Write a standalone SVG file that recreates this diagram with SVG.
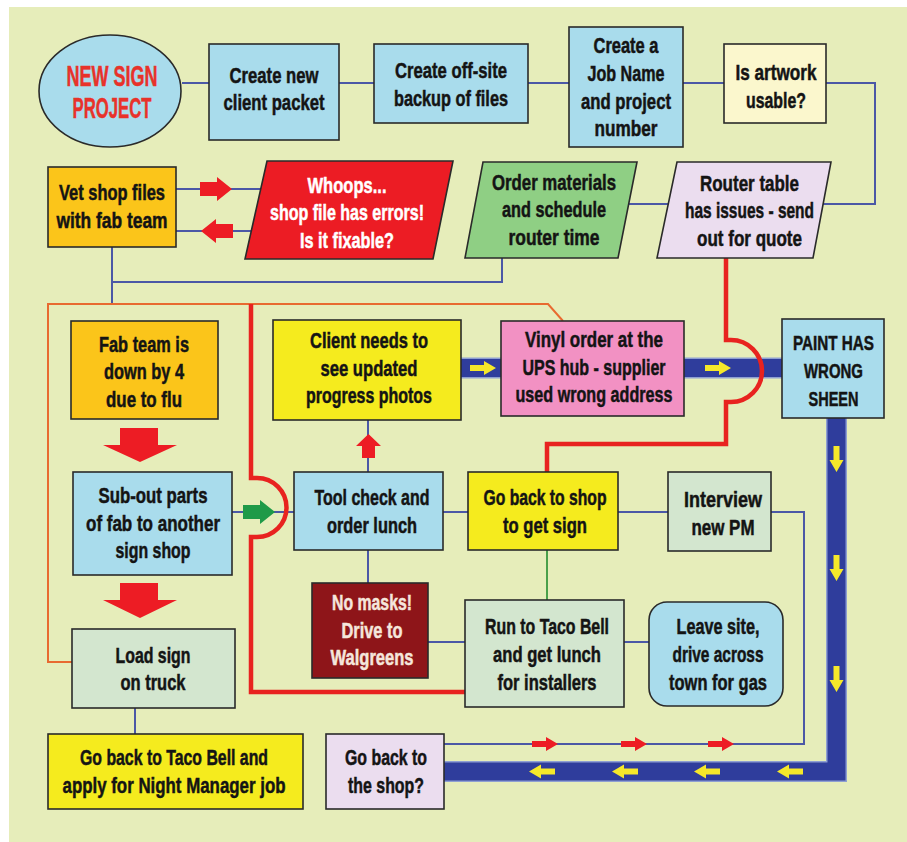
<svg xmlns="http://www.w3.org/2000/svg" width="907" height="842" viewBox="0 0 907 842">
<style>
.n{stroke:#2a2a2a;stroke-width:1.6}
.lb{fill:#a9dcec}.yl{fill:#f5eb1e}.oy{fill:#fbc51a}.mi{fill:#d3e6cf}.lv{fill:#ebddef}
.t{font-family:"Liberation Sans",Arial,sans-serif;font-weight:bold;font-size:22px;text-anchor:middle;fill:#141414;stroke:#141414;stroke-width:0.5}
.w{fill:#ffffff;stroke:#ffffff}.wm{fill:#f5e6dc;stroke:#f5e6dc}
.ln{fill:none;stroke:#4b58a6;stroke-width:2}
.gl{fill:none;stroke:#4aa04a;stroke-width:2}
.or{fill:none;stroke:#e86a30;stroke-width:2}
.rd{fill:none;stroke:#e8231f;stroke-width:4.5}
.blo{fill:none;stroke:#8e9fd2;stroke-width:21;stroke-linejoin:miter}
.bl{fill:none;stroke:#2f3d9c;stroke-width:18;stroke-linejoin:miter}
.ya{fill:#f5e82a}.ra{fill:#ed1c24}.ga{fill:#1f9a48}
</style>
<defs>
<path id="sa" d="M-13,-3 H1 V-7 L13,0 L1,7 V3 H-13 Z"/>
<path id="ba" d="M-16,-7 H1 V-12 L16,0 L1,12 V7 H-16 Z"/>
</defs>
<rect x="9" y="7" width="898" height="835" fill="#e6edba"/>
<g id="connectors">
<path class="ln" d="M182,83 H209 M339,83 H374 M528,83 H569 M683,83 H724"/>
<path class="ln" d="M826,83 H875 V204 H823"/>
<path class="ln" d="M629,204 H668"/>
<path class="ln" d="M502,258 V282 H112 M112,247 V304"/>
<path class="ln" d="M176,189 H261 M176,231 H251"/>
<path class="ln" d="M232,512 H294 M443,512 H468 M618,512 H668"/>
<path class="ln" d="M771,512 H804 V744 H444"/>
<path class="ln" d="M368,472 V420 M368,550 V583 M428,642 H465 M624,642 H649 M135,708 V734"/>
<path class="gl" d="M547,550 V600"/>
<path class="or" d="M72,662 H48 V304 H548 L563,321"/>
<path class="blo" d="M461,368 H501 M684,368 H782 M836.5,418 V771.5 H444"/>
<path class="bl" d="M461,368 H501 M684,368 H782 M836.5,418 V771.5 H444"/>
<path class="rd" d="M726,258 V340 H731 A31,31 0 0 1 731,402 H726 V444 H547 V472"/>
<path class="rd" d="M251,304 V478 H257 A29.5,29.5 0 0 1 257,537 H251 V692 H465"/>
<use href="#sa" class="ya" transform="translate(483,368)"/>
<use href="#sa" class="ya" transform="translate(718,368)"/>
<use href="#sa" class="ya" transform="translate(836.5,459) rotate(90)"/>
<use href="#sa" class="ya" transform="translate(836.5,568) rotate(90)"/>
<use href="#sa" class="ya" transform="translate(836.5,679) rotate(90)"/>
<use href="#sa" class="ya" transform="translate(542,771.5) rotate(180)"/>
<use href="#sa" class="ya" transform="translate(625,771.5) rotate(180)"/>
<use href="#sa" class="ya" transform="translate(707,771.5) rotate(180)"/>
<use href="#sa" class="ya" transform="translate(790,771.5) rotate(180)"/>
<use href="#sa" class="ra" transform="translate(545,744)"/>
<use href="#sa" class="ra" transform="translate(634,744)"/>
<use href="#sa" class="ra" transform="translate(721,744)"/>
<use href="#ba" class="ra" transform="translate(216,189)"/>
<use href="#ba" class="ra" transform="translate(217,231) rotate(180)"/>
<use href="#ba" class="ga" transform="translate(259,512)"/>
<path class="ra" d="M120,428 H158 V445 H177 L140,462 L103,445 H120 Z"/>
<path class="ra" d="M120,583 H158 V600 H177 L140,618 L103,600 H120 Z"/>
<path class="ra" d="M362,458 V446 H356 L368.5,434 L381,446 H375 V458 Z"/>
</g>
<g id="start">
<ellipse cx="110" cy="91" rx="71" ry="56" class="n lb"/>
<text class="t" x="112" y="86" style="font-size:29px;fill:#e8322a;stroke:#e8322a" textLength="91" lengthAdjust="spacingAndGlyphs">NEW SIGN</text>
<text class="t" x="112" y="118" style="font-size:29px;fill:#e8322a;stroke:#e8322a" textLength="79" lengthAdjust="spacingAndGlyphs">PROJECT</text>
</g>
<g id="client-packet">
<rect x="209" y="44" width="130" height="96" class="n lb"/>
<text class="t" x="274" y="83" textLength="89" lengthAdjust="spacingAndGlyphs">Create new</text>
<text class="t" x="274" y="110" textLength="101" lengthAdjust="spacingAndGlyphs">client packet</text>
</g>
<g id="backup">
<rect x="374" y="44" width="154" height="79" class="n lb"/>
<text class="t" x="451" y="78" textLength="112" lengthAdjust="spacingAndGlyphs">Create off-site</text>
<text class="t" x="451" y="106" textLength="114" lengthAdjust="spacingAndGlyphs">backup of files</text>
</g>
<g id="job-name">
<rect x="569" y="27" width="114" height="120" class="n lb"/>
<text class="t" x="626" y="53" textLength="65" lengthAdjust="spacingAndGlyphs">Create a</text>
<text class="t" x="626" y="81" textLength="77" lengthAdjust="spacingAndGlyphs">Job Name</text>
<text class="t" x="626" y="109" textLength="90" lengthAdjust="spacingAndGlyphs">and project</text>
<text class="t" x="626" y="136" textLength="63" lengthAdjust="spacingAndGlyphs">number</text>
</g>
<g id="artwork">
<rect x="724" y="44" width="102" height="79" class="n" fill="#fbf7cd"/>
<text class="t" x="776" y="80" textLength="81" lengthAdjust="spacingAndGlyphs">Is artwork</text>
<text class="t" x="776" y="108" textLength="60" lengthAdjust="spacingAndGlyphs">usable?</text>
</g>
<g id="vet">
<rect x="48" y="167" width="128" height="80" class="n oy"/>
<text class="t" x="112" y="200" textLength="106" lengthAdjust="spacingAndGlyphs">Vet shop files</text>
<text class="t" x="112" y="228" textLength="111" lengthAdjust="spacingAndGlyphs">with fab team</text>
</g>
<g id="whoops">
<polygon points="267,161 453,161 433,259 245,259" class="n" fill="#ec1c24"/>
<text class="t w" x="347" y="193" textLength="79" lengthAdjust="spacingAndGlyphs">Whoops...</text>
<text class="t w" x="347" y="220" textLength="154" lengthAdjust="spacingAndGlyphs">shop file has errors!</text>
<text class="t w" x="347" y="248" textLength="94" lengthAdjust="spacingAndGlyphs">Is it fixable?</text>
</g>
<g id="order">
<polygon points="483,162 637,162 618,258 465,258" class="n" fill="#8fcf84"/>
<text class="t" x="554" y="190" textLength="124" lengthAdjust="spacingAndGlyphs">Order materials</text>
<text class="t" x="554" y="217" textLength="104" lengthAdjust="spacingAndGlyphs">and schedule</text>
<text class="t" x="554" y="245" textLength="91" lengthAdjust="spacingAndGlyphs">router time</text>
</g>
<g id="router">
<polygon points="677,162 831,162 813,258 657,258" class="n lv"/>
<text class="t" x="749.5" y="191" textLength="99" lengthAdjust="spacingAndGlyphs">Router table</text>
<text class="t" x="749.5" y="218" textLength="129" lengthAdjust="spacingAndGlyphs">has issues - send</text>
<text class="t" x="749.5" y="246" textLength="105" lengthAdjust="spacingAndGlyphs">out for quote</text>
</g>
<g id="fab-team">
<rect x="71" y="321" width="147" height="98" class="n oy"/>
<text class="t" x="144" y="352" textLength="90" lengthAdjust="spacingAndGlyphs">Fab team is</text>
<text class="t" x="144" y="379" textLength="80" lengthAdjust="spacingAndGlyphs">down by 4</text>
<text class="t" x="144" y="407" textLength="76" lengthAdjust="spacingAndGlyphs">due to flu</text>
</g>
<g id="client-photos">
<rect x="273" y="320" width="188" height="100" class="n yl"/>
<text class="t" x="369" y="348" textLength="118" lengthAdjust="spacingAndGlyphs">Client needs to</text>
<text class="t" x="369" y="376" textLength="97" lengthAdjust="spacingAndGlyphs">see updated</text>
<text class="t" x="369" y="403" textLength="126" lengthAdjust="spacingAndGlyphs">progress photos</text>
</g>
<g id="vinyl">
<rect x="501" y="321" width="183" height="95" class="n" fill="#f291c3"/>
<text class="t" x="594" y="347" textLength="138" lengthAdjust="spacingAndGlyphs">Vinyl order at the</text>
<text class="t" x="594" y="375" textLength="143" lengthAdjust="spacingAndGlyphs">UPS hub - supplier</text>
<text class="t" x="594" y="402" textLength="157" lengthAdjust="spacingAndGlyphs">used wrong address</text>
</g>
<g id="paint">
<rect x="782" y="319" width="102" height="99" class="n lb"/>
<text class="t" x="833.5" y="350" style="font-size:21px" textLength="81" lengthAdjust="spacingAndGlyphs">PAINT HAS</text>
<text class="t" x="833.5" y="378" style="font-size:21px" textLength="59" lengthAdjust="spacingAndGlyphs">WRONG</text>
<text class="t" x="833.5" y="406" style="font-size:21px" textLength="50" lengthAdjust="spacingAndGlyphs">SHEEN</text>
</g>
<g id="sub-out">
<rect x="73" y="472" width="159" height="103" class="n lb"/>
<text class="t" x="153" y="503" textLength="109" lengthAdjust="spacingAndGlyphs">Sub-out parts</text>
<text class="t" x="153" y="531" textLength="134" lengthAdjust="spacingAndGlyphs">of fab to another</text>
<text class="t" x="153" y="558" textLength="75" lengthAdjust="spacingAndGlyphs">sign shop</text>
</g>
<g id="tool-check">
<rect x="294" y="472" width="149" height="78" class="n lb"/>
<text class="t" x="372" y="505" textLength="115" lengthAdjust="spacingAndGlyphs">Tool check and</text>
<text class="t" x="372" y="533" textLength="90" lengthAdjust="spacingAndGlyphs">order lunch</text>
</g>
<g id="go-back-sign">
<rect x="468" y="472" width="150" height="78" class="n yl"/>
<text class="t" x="545" y="505" textLength="123" lengthAdjust="spacingAndGlyphs">Go back to shop</text>
<text class="t" x="545" y="533" textLength="84" lengthAdjust="spacingAndGlyphs">to get sign</text>
</g>
<g id="interview">
<rect x="668" y="472" width="103" height="79" class="n mi"/>
<text class="t" x="723" y="507" textLength="78" lengthAdjust="spacingAndGlyphs">Interview</text>
<text class="t" x="723" y="535" textLength="63" lengthAdjust="spacingAndGlyphs">new PM</text>
</g>
<g id="no-masks">
<rect x="312" y="583" width="116" height="95" class="n" fill="#8e1519"/>
<text class="t wm" x="372" y="610" textLength="80" lengthAdjust="spacingAndGlyphs">No masks!</text>
<text class="t wm" x="372" y="638" textLength="61" lengthAdjust="spacingAndGlyphs">Drive to</text>
<text class="t wm" x="372" y="665" textLength="83" lengthAdjust="spacingAndGlyphs">Walgreens</text>
</g>
<g id="taco-run">
<rect x="465" y="600" width="159" height="107" class="n mi"/>
<text class="t" x="547" y="634" textLength="124" lengthAdjust="spacingAndGlyphs">Run to Taco Bell</text>
<text class="t" x="547" y="662" textLength="108" lengthAdjust="spacingAndGlyphs">and get lunch</text>
<text class="t" x="547" y="690" textLength="99" lengthAdjust="spacingAndGlyphs">for installers</text>
</g>
<g id="leave-site">
<rect x="649" y="602" width="134" height="104" rx="18" class="n lb"/>
<text class="t" x="718" y="634" textLength="83" lengthAdjust="spacingAndGlyphs">Leave site,</text>
<text class="t" x="718" y="662" textLength="91" lengthAdjust="spacingAndGlyphs">drive across</text>
<text class="t" x="718" y="690" textLength="98" lengthAdjust="spacingAndGlyphs">town for gas</text>
</g>
<g id="load-sign">
<rect x="72" y="629" width="163" height="79" class="n mi"/>
<text class="t" x="153" y="663" textLength="75" lengthAdjust="spacingAndGlyphs">Load sign</text>
<text class="t" x="153" y="690" textLength="65" lengthAdjust="spacingAndGlyphs">on truck</text>
</g>
<g id="night-manager">
<rect x="48" y="734" width="255" height="75" class="n yl"/>
<text class="t" x="174" y="765" textLength="188" lengthAdjust="spacingAndGlyphs">Go back to Taco Bell and</text>
<text class="t" x="174" y="793" textLength="223" lengthAdjust="spacingAndGlyphs">apply for Night Manager job</text>
</g>
<g id="go-back-shop">
<rect x="326" y="734" width="118" height="75" class="n lv"/>
<text class="t" x="386" y="765" textLength="82" lengthAdjust="spacingAndGlyphs">Go back to</text>
<text class="t" x="386" y="793" textLength="76" lengthAdjust="spacingAndGlyphs">the shop?</text>
</g>
</svg>
